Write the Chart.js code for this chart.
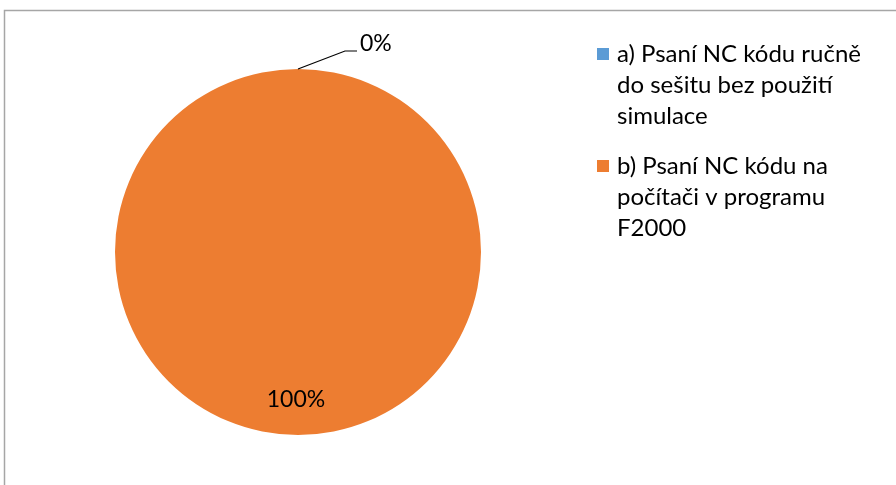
<!DOCTYPE html>
<html>
<head>
<meta charset="utf-8">
<script src="https://cdn.jsdelivr.net/npm/chart.js@4.4.1/dist/chart.umd.min.js"></script>
<style>
  html, body { margin: 0; padding: 0; background: #ffffff; }
  #wrap { position: relative; width: 896px; height: 485px; }
</style>
</head>
<body>
<div id="wrap"><canvas id="c" width="896" height="485"></canvas></div>
<script>
// Answer categories (legend lines are pre-wrapped) and their shares in percent
const categories = [
  ["a) Psaní NC kódu ručně", "do sešitu bez použití", "simulace"],
  ["b) Psaní NC kódu na", "počítači v programu", "F2000"]
];
const shares = [0, 100];
const colors = ["#5b9bd5", "#ed7d31"];

const FONT = "Lato, 'Open Sans', sans-serif";

// Frame of the chart object: thin grey rule along the top and the left side
const framePlugin = {
  id: "frame",
  beforeDraw(chart) {
    const ctx = chart.ctx;
    ctx.save();
    ctx.strokeStyle = "#a6a6a6";
    ctx.lineWidth = 1.5;
    ctx.beginPath();
    ctx.moveTo(4.5, chart.height);
    ctx.lineTo(4.5, 10.5);
    ctx.lineTo(chart.width, 10.5);
    ctx.stroke();
    ctx.restore();
  }
};

// Percentage labels: inside for visible slices, leader line for empty ones
const labelPlugin = {
  id: "sliceLabels",
  afterDatasetsDraw(chart) {
    const ctx = chart.ctx;
    const meta = chart.getDatasetMeta(0);
    const data = chart.data.datasets[0].data;
    const total = data.reduce((a, b) => a + b, 0);
    ctx.save();
    ctx.font = "23px " + FONT;
    ctx.fillStyle = "#000000";
    meta.data.forEach((arc, i) => {
      const p = arc.getProps(["x", "y", "startAngle", "endAngle", "outerRadius"], true);
      const pct = Math.round(data[i] / total * 100) + "%";
      const mid = (p.startAngle + p.endAngle) / 2;
      if (data[i] > 0) {
        const r = p.outerRadius * 0.805;
        ctx.textAlign = "center";
        ctx.textBaseline = "middle";
        ctx.fillText(pct, p.x + Math.cos(mid) * r - 2, p.y + Math.sin(mid) * r);
      } else {
        const ex = p.x + Math.cos(mid) * p.outerRadius;
        const ey = p.y + Math.sin(mid) * p.outerRadius;
        const kx = ex + 47, ky = ey - 18;
        ctx.strokeStyle = "#000000";
        ctx.lineWidth = 1.2;
        ctx.beginPath();
        ctx.moveTo(ex, ey);
        ctx.lineTo(kx, ky);
        ctx.lineTo(kx + 12, ky);
        ctx.stroke();
        ctx.textAlign = "left";
        ctx.textBaseline = "middle";
        ctx.fillText(pct, kx + 15, ky - 7);
      }
    });
    ctx.restore();
  }
};

// Legend to the right of the pie with wrapped entries
const legendPlugin = {
  id: "wrappedLegend",
  afterDraw(chart) {
    const ctx = chart.ctx;
    const labels = chart.data.labels;
    const bg = chart.data.datasets[0].backgroundColor;
    const x0 = 597, textX = 617, lineH = 31;
    const firstBase = [62, 174];
    ctx.save();
    ctx.font = "24px " + FONT;
    ctx.fillStyle = "#000000";
    ctx.textAlign = "left";
    ctx.textBaseline = "alphabetic";
    labels.forEach((lines, i) => {
      const b = firstBase[i];
      ctx.fillStyle = bg[i];
      ctx.fillRect(x0, b - 14, 12, 12);
      ctx.fillStyle = "#000000";
      lines.forEach((t, j) => ctx.fillText(t, textX, b + j * lineH));
    });
    ctx.restore();
  }
};

new Chart(document.getElementById("c"), {
  type: "pie",
  data: {
    labels: categories,
    datasets: [{
      data: shares,
      backgroundColor: colors,
      borderWidth: 0
    }]
  },
  options: {
    responsive: false,
    animation: false,
    layout: { padding: { left: 115, right: 415, top: 69, bottom: 50 } },
    plugins: {
      legend: { display: false },
      tooltip: { enabled: false }
    }
  },
  plugins: [framePlugin, labelPlugin, legendPlugin]
});
</script>
</body>
</html>
